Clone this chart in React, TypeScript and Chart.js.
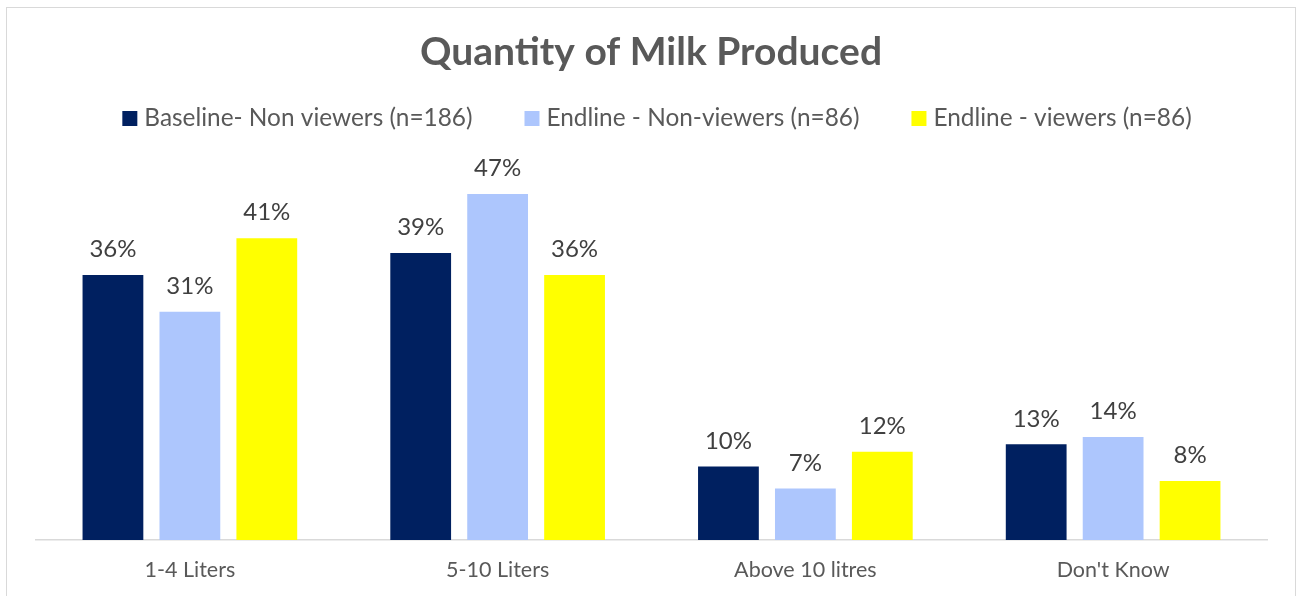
import React, { useEffect, useRef } from "react";
import { Chart, registerables } from "chart.js";

Chart.register(...registerables);

const categories = ["1-4 Liters", "5-10 Liters", "Above 10 litres", "Don't Know"];
const seriesNames = [
  "Baseline- Non viewers (n=186)",
  "Endline - Non-viewers (n=86)",
  "Endline - viewers (n=86)",
];
const baselineNonViewers = [36, 39, 10, 13];
const endlineNonViewers = [31, 47, 7, 14];
const endlineViewers = [41, 36, 12, 8];
const seriesColors = ["#002060", "#ADC6FD", "#FFFF00"];
const titleText = "Quantity of Milk Produced";

const FONT = "Lato, 'Open Sans', sans-serif";

// Frame, title, legend and value labels drawn on the canvas
const decorations = {
  id: "decorations",
  beforeDraw(chart: any) {
    const ctx = chart.ctx;
    ctx.save();
    ctx.fillStyle = "#ffffff";
    ctx.fillRect(0, 0, chart.width, chart.height);
    ctx.strokeStyle = "#D9D9D9";
    ctx.lineWidth = 1;
    ctx.strokeRect(6.5, 7.5, 1289, 700);
    ctx.restore();
  },
  afterDraw(chart: any) {
    const ctx = chart.ctx;
    ctx.save();

    // title
    ctx.font = `bold 39px ${FONT}`;
    ctx.fillStyle = "#595959";
    ctx.textAlign = "center";
    ctx.textBaseline = "alphabetic";
    ctx.fillText(titleText, 651, 65);

    // legend
    ctx.font = `24.4px ${FONT}`;
    const box = 15;
    const boxGap = 7;
    const itemGap = 52;
    const datasets = chart.data.datasets;
    const widths = datasets.map((d: any) => ctx.measureText(d.label).width);
    const total =
      widths.reduce((a: number, b: number) => a + b, 0) +
      datasets.length * (box + boxGap) +
      (datasets.length - 1) * itemGap;
    let x = 657 - total / 2;
    ctx.textAlign = "left";
    datasets.forEach((d: any, i: number) => {
      ctx.fillStyle = d.backgroundColor;
      ctx.fillRect(x, 111, box, box);
      x += box + boxGap;
      ctx.fillStyle = "#595959";
      ctx.fillText(d.label, x, 126);
      x += widths[i] + itemGap;
    });

    // value labels above bars
    ctx.font = `24px ${FONT}`;
    ctx.fillStyle = "#404040";
    ctx.textAlign = "center";
    ctx.textBaseline = "middle";
    datasets.forEach((d: any, i: number) => {
      const meta = chart.getDatasetMeta(i);
      meta.data.forEach((bar: any, j: number) => {
        ctx.fillText(`${d.data[j]}%`, bar.x, bar.y - 25.5);
      });
    });
    ctx.restore();
  },
};

export default function App() {
  const canvasRef = useRef<HTMLCanvasElement | null>(null);

  useEffect(() => {
    if (!canvasRef.current) return;
    const chart = new Chart(canvasRef.current, {
      type: "bar",
      data: {
        labels: categories,
        datasets: [baselineNonViewers, endlineNonViewers, endlineViewers].map((values, i) => ({
          label: seriesNames[i],
          data: values,
          backgroundColor: seriesColors[i],
          borderWidth: 0,
          barPercentage: 0.79,
          categoryPercentage: 0.75,
        })),
      },
      options: {
        responsive: false,
        animation: false,
        layout: { padding: { top: 172, left: 36, right: 30, bottom: 0 } },
        plugins: {
          legend: { display: false },
          title: { display: false },
          tooltip: { enabled: false },
        },
        scales: {
          x: {
            grid: { display: false, drawTicks: false },
            border: { display: true, color: "#D9D9D9", width: 1.5 },
            ticks: {
              color: "#595959",
              font: { family: FONT, size: 21.5 },
              padding: 17,
            },
            afterFit: (scale: any) => {
              scale.height = 56;
            },
          },
          y: {
            display: false,
            min: 0,
            max: 50,
          },
        },
      },
      plugins: [decorations],
    });
    return () => chart.destroy();
  }, []);

  return (
    <div style={{ position: "fixed", left: 0, top: 0, width: 1297, height: 596, background: "#fff" }}>
      <canvas ref={canvasRef} width={1297} height={596} />
    </div>
  );
}
